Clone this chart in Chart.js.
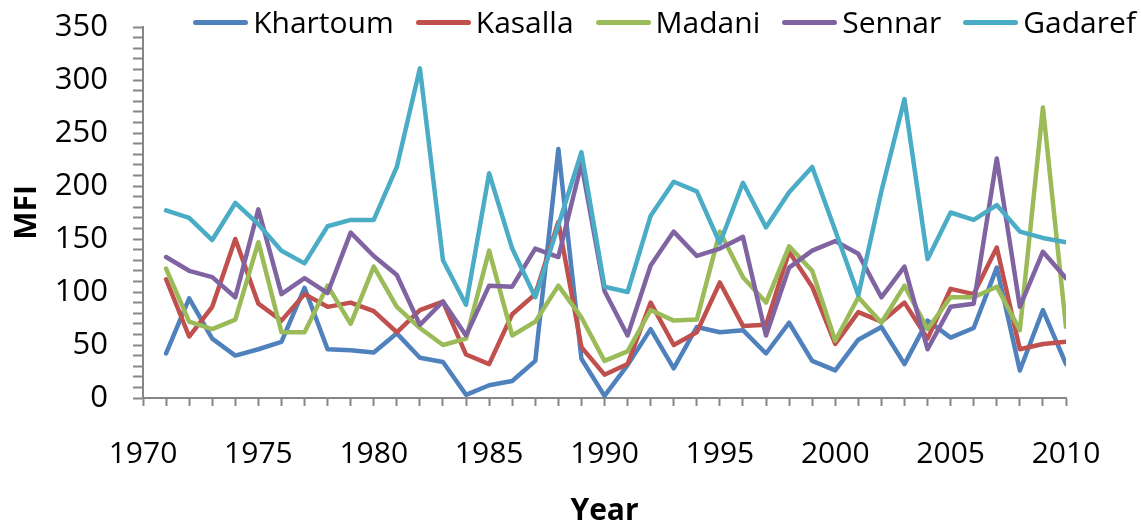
<!DOCTYPE html>
<html lang="en">
<head>
  <meta charset="UTF-8">
  <title>MFI by station, 1971-2010</title>
  <style>
    body {
      margin: 0;
      padding: 0;
      background: #fff;
      font-family: "Open Sans", sans-serif;
    }
    .wrap {
      position: relative;
      width: 1141px;
      height: 525px;
    }
    #legend {
      position: absolute;
      top: 5px;
      right: 5px;
      display: flex;
      align-items: center;
      font-size: 30px;
      line-height: 34px;
      color: #000;
    }
    #legend .item {
      display: flex;
      align-items: center;
      margin-left: 22px;
    }
    #legend .swatch {
      width: 55px;
      height: 5px;
      border-radius: 3px;
      margin-right: 5px;
    }
  </style>
</head>
<body>
  <div class="wrap">
    <canvas id="mfiChart" width="1141" height="525"></canvas>
    <div id="legend"></div>
  </div>

  <script src="https://cdn.jsdelivr.net/npm/chart.js"></script>
  <script>
    // Years of record
    const years = [1971, 1972, 1973, 1974, 1975, 1976, 1977, 1978, 1979, 1980,
                   1981, 1982, 1983, 1984, 1985, 1986, 1987, 1988, 1989, 1990,
                   1991, 1992, 1993, 1994, 1995, 1996, 1997, 1998, 1999, 2000,
                   2001, 2002, 2003, 2004, 2005, 2006, 2007, 2008, 2009, 2010];

    // MFI per station
    const khartoum = [42, 94, 56, 40, 46, 53, 104, 46, 45, 43, 61, 38, 34, 3, 12, 16, 35, 235, 37, 2,
                      31, 65, 28, 67, 62, 64, 42, 71, 35, 26, 55, 67, 32, 73, 57, 66, 123, 26, 83, 32];
    const kasalla = [112, 58, 86, 150, 89, 73, 98, 86, 90, 82, 62, 83, 91, 41, 32, 79, 98, 166, 48, 22,
                     32, 90, 50, 62, 109, 68, 69, 138, 105, 51, 81, 72, 90, 56, 103, 98, 142, 46, 51, 53];
    const madani = [122, 72, 65, 74, 147, 62, 62, 106, 70, 124, 86, 66, 50, 56, 139, 59, 72, 106, 76, 35,
                    44, 83, 73, 74, 157, 114, 90, 143, 120, 54, 95, 71, 106, 65, 95, 95, 105, 64, 274, 67];
    const sennar = [133, 120, 114, 95, 178, 98, 113, 99, 156, 134, 116, 69, 91, 59, 106, 105, 141, 133, 221, 101,
                    59, 125, 157, 134, 141, 152, 59, 123, 139, 148, 136, 95, 124, 46, 86, 89, 226, 86, 138, 113];
    const gadaref = [177, 170, 149, 184, 164, 139, 127, 162, 168, 168, 218, 311, 130, 88, 212, 141, 95, 163, 232, 105,
                     100, 172, 204, 195, 146, 203, 161, 194, 218, 158, 97, 195, 282, 131, 175, 168, 182, 157, 151, 147];

    const stations = ['Khartoum', 'Kasalla', 'Madani', 'Sennar', 'Gadaref'];
    const colors = ['#4f81bd', '#c0504d', '#9bbb59', '#8064a2', '#4bacc6'];
    const series = [khartoum, kasalla, madani, sennar, gadaref];

    const axisGray = '#868686';
    const fontFamily = '"Open Sans", sans-serif';

    const datasets = stations.map((name, i) => ({
      label: name,
      data: years.map((y, j) => ({ x: y, y: series[i][j] })),
      borderColor: colors[i],
      backgroundColor: colors[i],
      borderWidth: 4.5,
      borderJoinStyle: 'round',
      borderCapStyle: 'round',
      pointRadius: 0,
      tension: 0,
      order: stations.length - i   // later stations drawn on top
    }));

    // legend above the plot
    const legend = document.getElementById('legend');
    stations.forEach((name, i) => {
      const item = document.createElement('div');
      item.className = 'item';
      const sw = document.createElement('span');
      sw.className = 'swatch';
      sw.style.background = colors[i];
      const txt = document.createElement('span');
      txt.textContent = name;
      item.appendChild(sw);
      item.appendChild(txt);
      legend.appendChild(item);
    });

    new Chart(document.getElementById('mfiChart').getContext('2d'), {
      type: 'line',
      data: { datasets: datasets },
      options: {
        responsive: false,
        animation: false,
        layout: { padding: { left: 0, top: 27, right: 75, bottom: 0 } },
        plugins: {
          legend: { display: false },
          tooltip: { enabled: false }
        },
        scales: {
          x: {
            type: 'linear',
            min: 1970,
            max: 2010,
            afterFit: scale => { scale.height = 127; },
            border: { color: axisGray, width: 2 },
            grid: {
              drawOnChartArea: false,
              drawTicks: true,
              tickLength: 8,
              color: axisGray,
              tickWidth: 2
            },
            ticks: {
              stepSize: 1,
              autoSkip: false,
              maxRotation: 0,
              padding: 30,
              color: '#000',
              font: { family: fontFamily, size: 30 },
              callback: v => (v % 5 === 0 ? String(v) : '')
            },
            title: {
              display: true,
              text: 'Year',
              color: '#000',
              padding: { top: 0, bottom: -4 },
              font: { family: fontFamily, size: 30, weight: 'bold' }
            }
          },
          y: {
            min: 0,
            max: 350,
            // fixed axis width; the label gap should not push the plot down
            afterFit: scale => {
              scale.width = 143;
              scale.paddingTop = 0;
              scale.paddingBottom = 0;
            },
            border: { color: axisGray, width: 2 },
            grid: {
              drawOnChartArea: false,
              drawTicks: true,
              tickLength: 10,
              color: axisGray,
              tickWidth: 2
            },
            ticks: {
              stepSize: 10,
              autoSkip: false,
              padding: 25,
              color: '#000',
              font: { family: fontFamily, size: 31 },
              callback: v => (v % 50 === 0 ? String(v) : '')
            },
            title: {
              display: true,
              text: 'MFI',
              color: '#000',
              padding: { top: 9, bottom: 0 },
              font: { family: fontFamily, size: 30, weight: 'bold' }
            }
          }
        }
      }
    });
  </script>
</body>
</html>
